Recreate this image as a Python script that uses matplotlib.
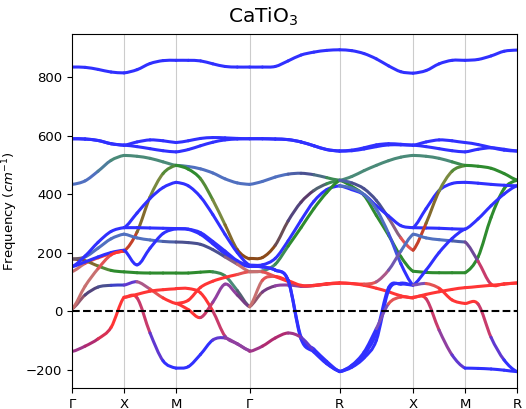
import numpy as np
import matplotlib
matplotlib.use("Agg")
import matplotlib.pyplot as plt
from matplotlib.path import Path
from matplotlib.collections import PathCollection

# path through the Brillouin zone
labels = ["Γ", "X", "M", "Γ", "R", "X", "M", "R"]
seg_lengths = [0.5, 0.5, 0.7071, 0.866, 0.7071, 0.5, 0.5]

# colour codes of the atom projections
palette = {
    "b": "#3030ff", "r": "#ff3535", "g": "#2e8b2e", "n": "#8b4a1a",
    "o": "#7a8a40", "l": "#5070c0", "t": "#4a8a78", "s": "#4a5090",
    "d": "#5a3a6a", "p": "#9040a0", "m": "#b02a70", "k": "#c87070",
}

# Gamma -> X
seg1_freq = [
    [834, 833, 826, 817, 814],
    [589, 588, 583, 572, 567],
    [589, 588, 583, 572, 567],
    [433, 445, 478, 515, 532],
    [135, 163, 182, 196, 205],
    [178, 172, 154, 139, 134],
    [178, 185, 215, 247, 263],
    [152, 188, 235, 272, 285],
    [152, 168, 185, 200, 208],
    [8, 55, 82, 88, 89],
    [8, 85, 145, 192, 205],
    [-138, -120, -95, -56, 47],
]
seg1_col = ["bbbbb", "bbbbb", "bbbbb", "llltt", "kkrrr", "nnogg",
            "nllll", "bbbbb", "bbbbb", "kdssb", "kkkrr", "pmmrr"]

# X -> M
seg2_freq = [
    [814, 825, 846, 856, 857],
    [567, 578, 585, 582, 576],
    [567, 562, 555, 548, 544],
    [532, 529, 522, 510, 498],
    [205, 270, 390, 470, 498],
    [285, 285, 284, 283, 282],
    [285, 335, 385, 422, 440],
    [263, 250, 243, 238, 236],
    [208, 158, 215, 265, 281],
    [134, 131, 130, 130, 130],
    [89, 100, 75, 45, 26],
    [47, 57, 68, 73, 76],
    [47, 45, -75, -170, -195],
]
seg2_col = ["bbbbb", "bbbbb", "bbbbb", "ttttt", "rnoog", "bbbbb", "bbbbb",
            "lllls", "bbbbb", "ggggg", "bpkrr", "rrrrr", "rrpbb"]

# M -> Gamma
seg3_freq = [
    [857, 857, 855, 845, 836, 834, 834],
    [576, 582, 590, 593, 592, 590, 589],
    [544, 552, 565, 577, 585, 588, 589],
    [498, 494, 486, 472, 452, 438, 433],
    [498, 485, 452, 380, 295, 210, 178],
    [440, 428, 390, 330, 262, 200, 157],
    [282, 280, 268, 238, 205, 172, 155],
    [281, 279, 262, 230, 195, 165, 152],
    [236, 234, 228, 210, 185, 160, 135],
    [130, 130, 133, 134, 120, 70, 15],
    [77, 77, 62, 0, -86, -112, -135],
    [26, 5, -22, 30, 92, 55, 15],
    [26, 37, 81, 102, 115, 125, 135],
    [-195, -190, -148, -99, -92, -112, -135],
]
seg3_col = ["bbbbbbb", "bbbbbbb", "bbbbbbb", "tllllll", "gggoonn", "bbbbbbb",
            "bbbbbbb", "bbbbbbb", "ssssskk", "ggggttd", "rrrrppp", "rrrpppd",
            "rrrrrrk", "bbbbppp"]

# Gamma -> R
seg4_freq = [
    [834, 834, 836, 855, 875, 885, 891, 893],
    [589, 589, 588, 586, 578, 565, 552, 547],
    [589, 589, 588, 586, 578, 565, 552, 547],
    [433, 443, 458, 468, 471, 466, 456, 447],
    [180, 183, 225, 308, 372, 412, 435, 447],
    [157, 158, 180, 240, 310, 375, 415, 428],
    [135, 137, 160, 222, 285, 350, 405, 446],
    [134, 134, 118, 101, 85, 88, 93, 96],
    [15, 65, 86, 89, 85, 87, 92, 95],
    [15, 105, 118, 104, 88, 87, 93, 96],
    [153, 151, 140, 105, -95, -140, -180, -206],
    [153, 151, 140, 105, -88, -130, -172, -206],
    [-138, -120, -92, -75, -90, -135, -178, -206],
]
seg4_col = ["bbbbbbbb", "bbbbbbbb", "bbbbbbbb", "llllsstg", "nnnsddtg",
            "bbbbbbbb", "kttggggg", "kkrrrrrr", "kdpppprr", "kkrrrrrr",
            "bbbbbbbb", "bbbbbbbb", "pmmmpbbb"]

# R -> X
seg5_freq = [
    [893, 890, 880, 862, 838, 818, 813],
    [547, 550, 558, 568, 572, 570, 567],
    [547, 548, 554, 562, 568, 568, 567],
    [447, 460, 480, 498, 514, 526, 532],
    [447, 426, 395, 327, 259, 186, 136],
    [447, 438, 418, 378, 318, 250, 208],
    [428, 415, 398, 360, 325, 292, 285],
    [428, 420, 398, 348, 265, 162, 89],
    [96, 94, 88, 78, 66, 52, 45],
    [96, 94, 92, 100, 140, 205, 262],
    [-207, -192, -160, -100, 70, 95, 89],
    [-207, -188, -150, -75, 80, 92, 89],
    [-207, -185, -140, -60, 25, 48, 45],
]
seg5_col = ["bbbbbbb", "bbbbbbb", "bbbbbbb", "ttttttt", "ggggggg", "lsssskr",
            "bbbbbbb", "lllllbb", "rrrrrrr", "rrrkpll", "bbbbbbb", "bbbbbbb",
            "bbbbkrr"]

# X -> M
seg6_freq = [
    [813, 822, 845, 857, 857],
    [567, 578, 585, 582, 576],
    [567, 562, 555, 548, 544],
    [532, 529, 522, 510, 498],
    [136, 132, 131, 131, 131],
    [285, 284, 283, 281, 280],
    [285, 350, 412, 436, 440],
    [208, 300, 410, 478, 497],
    [263, 250, 244, 240, 236],
    [89, 140, 200, 248, 280],
    [89, 94, 78, 38, 26],
    [47, 57, 66, 74, 80],
    [47, 42, -65, -150, -195],
]
seg6_col = ["bbbbb", "bbbbb", "bbbbb", "ttttg", "ggggg", "bbbbb", "bbbbb",
            "rnoog", "lllls", "bbbbb", "bkrrr", "rrrrr", "rrppb"]

# M -> R
seg7_freq = [
    [857, 860, 872, 888, 892],
    [576, 569, 559, 550, 547],
    [544, 553, 558, 553, 547],
    [498, 495, 488, 470, 448],
    [131, 185, 320, 418, 447],
    [440, 437, 433, 430, 428],
    [280, 315, 360, 400, 428],
    [236, 170, 92, 93, 96],
    [80, 84, 88, 92, 96],
    [26, 24, -90, -167, -207],
    [-195, -196, -198, -202, -207],
]
seg7_col = ["bbbbb", "bbbbb", "bbbbb", "ggggg", "ggggg", "bbbbb", "bbbbb",
            "sprrr", "rrrrr", "rrpbb", "bbbbb"]

segments = [(seg1_freq, seg1_col), (seg2_freq, seg2_col), (seg3_freq, seg3_col),
            (seg4_freq, seg4_col), (seg5_freq, seg5_col), (seg6_freq, seg6_col),
            (seg7_freq, seg7_col)]

ticks = np.concatenate([[0], np.cumsum(seg_lengths)])


def band_paths(x0, length, freqs, cols):
    # smooth cubic pieces through the read-off values, one colour per piece
    paths, colors = [], []
    for f, c in zip(freqs, cols):
        x = np.linspace(x0, x0 + length, len(f))
        y = np.asarray(f, dtype=float)
        n = len(y)
        dx = x[1] - x[0]
        m = np.empty(n)
        m[1:-1] = (y[2:] - y[:-2]) / 2
        m[0] = (y[1] - y[0]) * 0.5
        m[-1] = (y[-1] - y[-2]) * 0.5
        rgb = np.array([matplotlib.colors.to_rgb(palette[ch]) for ch in c])
        for i in range(n - 1):
            verts = [(x[i], y[i]),
                     (x[i] + dx / 3, y[i] + m[i] / 3),
                     (x[i + 1] - dx / 3, y[i + 1] - m[i + 1] / 3),
                     (x[i + 1], y[i + 1])]
            codes = [Path.MOVETO, Path.CURVE4, Path.CURVE4, Path.CURVE4]
            paths.append(Path(verts, codes))
            colors.append((rgb[i] + rgb[i + 1]) / 2)
    return paths, colors


fig = plt.figure(figsize=(5.26, 4.09), dpi=100)
ax = fig.add_axes([0.137, 0.0513, 0.846, 0.8656])

for t in ticks[1:-1]:
    ax.axvline(t, color="#cccccc", lw=0.8, zorder=0)

for k, (freqs, cols) in enumerate(segments):
    paths, colors = band_paths(ticks[k], seg_lengths[k], freqs, cols)
    pc = PathCollection(paths, facecolors="none", edgecolors=colors,
                        linewidths=2.2, capstyle="round",
                        transform=ax.transData, zorder=2)
    ax.add_collection(pc)

ax.axhline(0, color="black", ls="--", lw=1.5, zorder=3)

ax.set_xlim(ticks[0], ticks[-1])
ax.set_ylim(-263, 947)
ax.set_xticks(ticks)
ax.set_xticklabels(labels, fontsize=9.5)
ax.set_yticks([-200, 0, 200, 400, 600, 800])
ax.tick_params(axis="y", labelsize=9.5)
ax.set_ylabel("Frequency ($cm^{-1}$)", fontsize=9.5)
fig.suptitle("CaTiO$_3$", x=0.5, y=0.985, va="top", fontsize=14.5)

fig.savefig("out.png", dpi=100)
